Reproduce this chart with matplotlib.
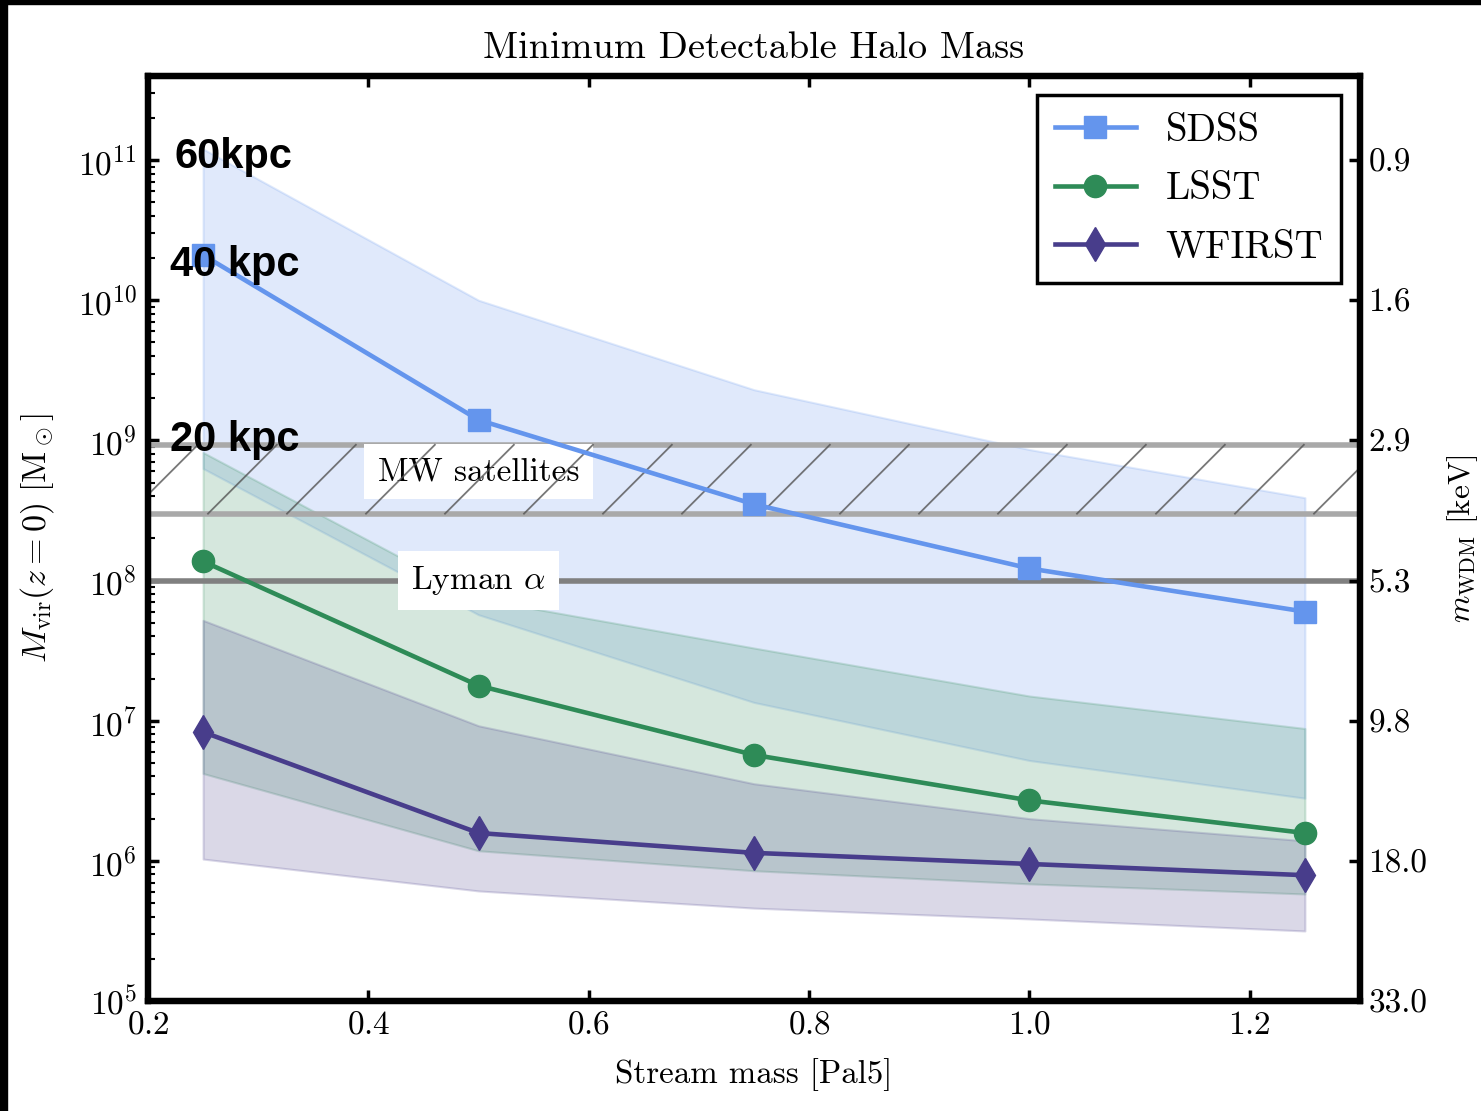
import numpy as np
import matplotlib
matplotlib.use('Agg')
import matplotlib.pyplot as plt
from matplotlib.lines import Line2D
from matplotlib.patches import Rectangle

plt.rcParams['font.family'] = 'serif'
plt.rcParams['font.serif'] = ['cmr10']
plt.rcParams['mathtext.fontset'] = 'cm'
plt.rcParams['axes.formatter.use_mathtext'] = True

#%% Data
stream_mass = [0.25, 0.5, 0.75, 1.0, 1.25]

sdss_mid = [2.1e10, 1.4e9, 3.5e8, 1.22e8, 6.0e7]
sdss_hi = [1.2e11, 1.0e10, 2.3e9, 8.6e8, 3.9e8]
sdss_lo = [6.3e8, 5.7e7, 1.35e7, 5.2e6, 2.8e6]

lsst_mid = [1.37e8, 1.78e7, 5.7e6, 2.7e6, 1.58e6]
lsst_hi = [8.2e8, 7.4e7, 3.3e7, 1.5e7, 8.8e6]
lsst_lo = [4.2e6, 1.18e6, 8.5e5, 6.85e5, 5.8e5]

wfirst_mid = [8.3e6, 1.58e6, 1.14e6, 9.5e5, 7.9e5]
wfirst_hi = [5.2e7, 9.2e6, 3.55e6, 2.0e6, 1.39e6]
wfirst_lo = [1.03e6, 6.1e5, 4.6e5, 3.85e5, 3.16e5]

mw_lo, mw_hi = 3.0e8, 9.3e8
lyman = 1.0e8

right_ticks = [1e5, 1e6, 1e7, 1e8, 1e9, 1e10, 1e11]
right_labels = ['33.0', '18.0', '9.8', '5.3', '2.9', '1.6', '0.9']

#%% Figure
fig = plt.figure(figsize=(14.81, 11.11), dpi=100)
ax = fig.add_axes([148/1481, 1 - 1001/1111, 1212/1481, 925/1111])

# dark screenshot edges
fig.patches.append(Rectangle((0, 0), 7/1481, 1, transform=fig.transFigure,
                             color='black', zorder=0))
fig.patches.append(Rectangle((0, 1 - 4/1111), 1, 4/1111, transform=fig.transFigure,
                             color='black', zorder=0))

surveys = [('SDSS', 'cornflowerblue', 's', 16, sdss_mid, sdss_lo, sdss_hi),
           ('LSST', 'seagreen', 'o', 16, lsst_mid, lsst_lo, lsst_hi),
           ('WFIRST', 'darkslateblue', 'd', 17, wfirst_mid, wfirst_lo, wfirst_hi)]

for name, col, mk, ms, mid, lo, hi in surveys:
    ax.fill_between(stream_mass, lo, hi, facecolor=col, alpha=0.2,
                    edgecolor=col, linewidth=1.5, zorder=1)
for name, col, mk, ms, mid, lo, hi in surveys:
    ax.plot(stream_mass, mid, color=col, marker=mk, markersize=ms, lw=3.3,
            label=name, zorder=6)

# constraints
ax.axhline(mw_hi, color='darkgray', lw=4, zorder=2)
ax.axhline(mw_lo, color='darkgray', lw=4, zorder=2)
ax.axhline(lyman, color='gray', lw=4, zorder=2)

ax.text(0.5, 6.0e8, 'MW satellites', fontsize=24, ha='center', va='center',
        zorder=4, bbox=dict(facecolor='white', edgecolor='none', pad=9.5))
ax.text(0.5, lyman, r'Lyman $\alpha$', fontsize=24, ha='center', va='center',
        zorder=4, bbox=dict(facecolor='white', edgecolor='none', pad=9.5))

ax.set_yscale('log')
ax.set_xlim(0.2, 1.3)
ax.set_ylim(1e5, 10**11.6)

# sparse diagonal hatch over the MW band
p_lo = ax.transData.transform((0.5, mw_lo))
p_hi = ax.transData.transform((0.5, mw_hi))
x_left = ax.transAxes.transform((0, 0))[0]
x_right = ax.transAxes.transform((1, 0))[0]
band_h = p_hi[1] - p_lo[1]
spacing = 79
start = x_left + 60 - spacing
xs = np.arange(start, x_right + spacing, spacing)
for xb in xs:
    ln = Line2D([xb, xb + band_h], [p_lo[1], p_hi[1]], transform=None,
                color='#555555', lw=1.3, alpha=0.8, zorder=5)
    ln.set_clip_box(ax.bbox)
    ax.add_artist(ln)

kw = dict(fontsize=30, fontweight='bold', family='Liberation Sans',
          ha='left', va='center', zorder=8)
ax.text(0.2245, 1.05e11, '60kpc', **kw)
ax.text(0.22, 1.78e10, '40 kpc', **kw)
ax.text(0.22, 1.0e9, '20 kpc', **kw)

ax.set_title('Minimum Detectable Halo Mass', fontsize=27.6, pad=13)
ax.set_xlabel('Stream mass [Pal5]', fontsize=23.7)
ax.set_ylabel(r'$M_{\rm vir}(z=0)\ [{\rm M}_\odot]$', fontsize=24.5)
ax.xaxis.set_label_coords(0.5, -0.062)
ax.yaxis.set_label_coords(-0.076, 0.5)

ax.set_xticks([0.2, 0.4, 0.6, 0.8, 1.0, 1.2])
ax.tick_params(axis='both', which='major', direction='in', length=8, width=2.5,
               labelsize=24, top=True, pad=7)
ax.tick_params(axis='y', which='minor', direction='in', length=5, width=1.5)
ax.tick_params(axis='x', which='minor', bottom=False, top=False)
ax.tick_params(axis='y', which='major', pad=8)

ax2 = ax.twinx()
ax2.set_yscale('log')
ax2.set_ylim(ax.get_ylim())
ax2.set_yticks(right_ticks)
ax2.set_yticklabels(right_labels)
ax2.minorticks_off()
ax2.tick_params(axis='y', which='major', direction='in', length=8, width=2.5,
                labelsize=24, pad=6)
ax2.set_ylabel(r'$m_{\rm WDM}$ [keV]', fontsize=22.5)
ax2.yaxis.set_label_coords(1.070, 0.5)

for a in (ax, ax2):
    for sp in a.spines.values():
        sp.set_linewidth(4.5)

leg = ax.legend(loc='upper right', fontsize=28, handlelength=2.1,
                handletextpad=0.75, labelspacing=0.58, borderaxespad=0.5,
                fancybox=False, framealpha=1, borderpad=0.45)
leg.get_frame().set_edgecolor('black')
leg.get_frame().set_linewidth(2.5)
leg.set_zorder(10)

fig.savefig('out.png', dpi=100)
